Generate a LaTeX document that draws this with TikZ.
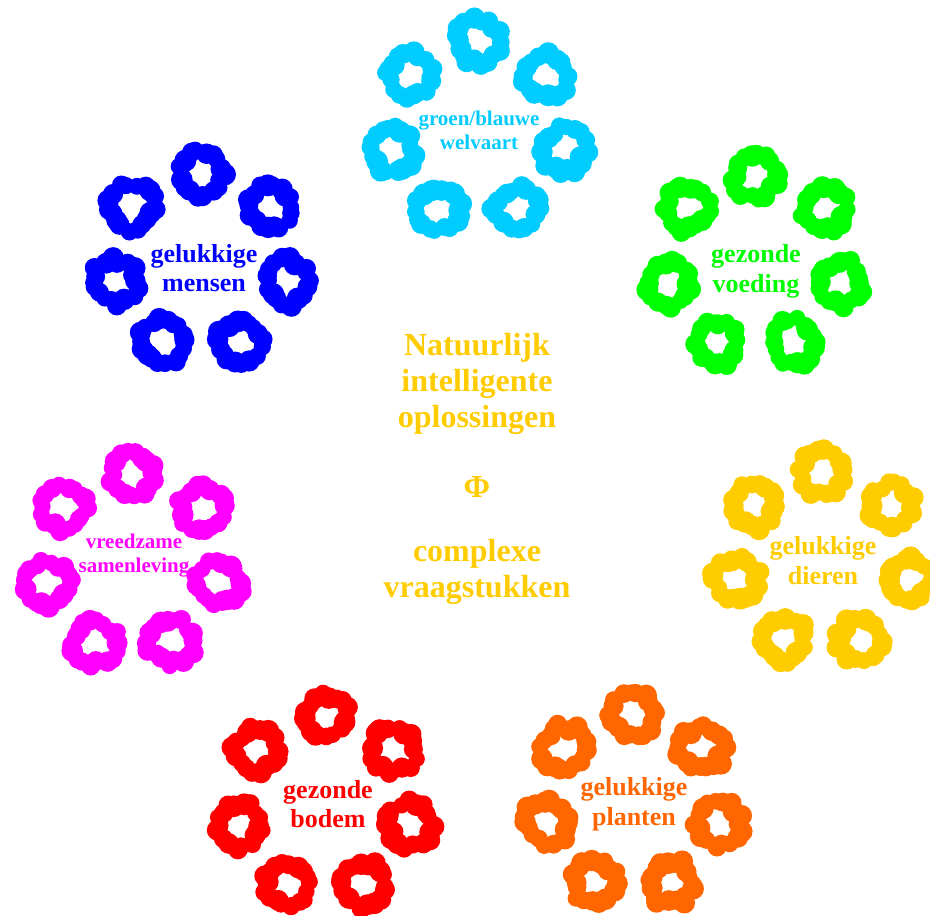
\documentclass[tikz,border=0pt]{standalone}
\usepackage{fontspec}
\setmainfont{Liberation Serif}
\definecolor{ccyan}{RGB}{0,204,255}
\definecolor{cgreen}{RGB}{0,255,0}
\definecolor{cyellow}{RGB}{255,204,0}
\definecolor{corange}{RGB}{255,102,0}
\definecolor{cred}{RGB}{255,0,0}
\definecolor{cmagenta}{RGB}{255,0,255}
\definecolor{cblue}{RGB}{0,0,255}
\newcommand\dotcluster[3]{%
  \coordinate (#1) at (#2);
  \foreach \k in {0,...,6}{
    \path (#1) ++({-90+\k*360/7}:88) coordinate (#1-\k);
    \foreach \j in {1,...,18}{
      \pgfmathsetmacro\aa{\j*20+7*rand}
      \pgfmathsetmacro\rr{21.5+3.5*rand}
      \pgfmathsetmacro\dd{9.5+1.5*rand}
      \fill[#3] (#1-\k) ++(\aa:\rr) circle[radius=\dd pt];
    }
  }
}
\tikzset{
  lbl/.style={font=\bfseries\fontsize{26}{30}\selectfont, anchor=base, inner sep=0pt},
  lbls/.style={font=\bfseries\fontsize{21}{25}\selectfont, anchor=base, inner sep=0pt},
  ctext/.style={font=\bfseries\fontsize{32}{36}\selectfont, anchor=base, inner sep=0pt, text=cyellow}
}
\begin{document}
\begin{tikzpicture}[x=1pt,y=-1pt]
\useasboundingbox (0,0) rectangle (930,916);
\fill[white] (0,0) rectangle (930,916);
\pgfmathsetseed{4242}
\dotcluster{cy}{478,130}{ccyan}
\dotcluster{gr}{755,263}{cgreen}
\dotcluster{ye}{822,560}{cyellow}
\dotcluster{or}{633,803}{corange}
\dotcluster{re}{325,805}{cred}
\dotcluster{ma}{133,563}{cmagenta}
\dotcluster{bl}{201,262}{cblue}
% labels
\node[lbls,text=ccyan] (cy1) at (479,125) {groen/blauwe};
\node[lbls,text=ccyan] (cy2) at (479,149) {welvaart};
\node[lbl,text=cgreen] (gr1) at (756,262) {gezonde};
\node[lbl,text=cgreen] (gr2) at (756,292) {voeding};
\node[lbl,text=cyellow] (ye1) at (823,554) {gelukkige};
\node[lbl,text=cyellow] (ye2) at (823,584) {dieren};
\node[lbl,text=corange] (or1) at (634,795) {gelukkige};
\node[lbl,text=corange] (or2) at (634,825) {planten};
\node[lbl,text=cred] (re1) at (328,798) {gezonde};
\node[lbl,text=cred] (re2) at (328,827) {bodem};
\node[lbls,text=cmagenta] (ma1) at (134,548) {vreedzame};
\node[lbls,text=cmagenta] (ma2) at (134,572) {samenleving};
\node[lbl,text=cblue] (bl1) at (204,262) {gelukkige};
\node[lbl,text=cblue] (bl2) at (204,291) {mensen};
% centre
\node[ctext] (c1) at (477,355) {Natuurlijk};
\node[ctext] (c2) at (477,391) {intelligente};
\node[ctext] (c3) at (477,427) {oplossingen};
\node[ctext] (phi) at (477,497) {Φ};
\node[ctext] (c4) at (477,561) {complexe};
\node[ctext] (c5) at (477,597) {vraagstukken};
\end{tikzpicture}
\end{document}
